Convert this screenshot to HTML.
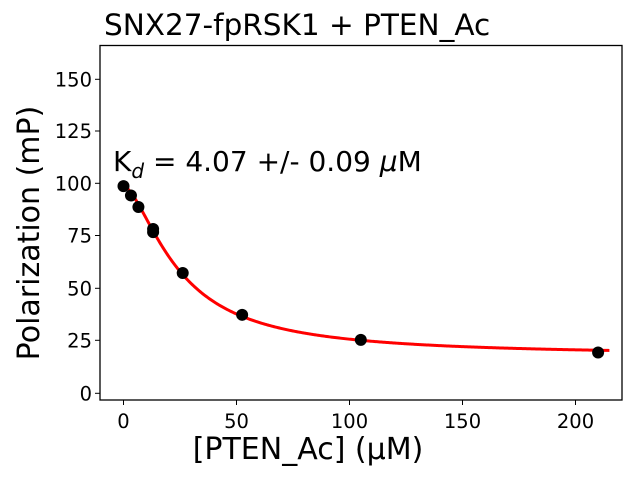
<!DOCTYPE html>
<html><head><meta charset="utf-8"><style>body{margin:0;background:#fff}svg{display:block;font-family:"DejaVu Sans","Liberation Sans",sans-serif}</style></head>
<body>
<svg id="s" width="640" height="480" xmlns="http://www.w3.org/2000/svg">
<rect width="640" height="480" fill="#fff"/>
<text x="104" y="35" font-size="29.5">SNX27-fpRSK1 + PTEN_Ac</text>
<g id="plot"></g>
<rect x="100" y="45.5" width="522" height="354.5" fill="none" stroke="#000" stroke-width="1.3"/>
<g font-size="19.5" text-anchor="middle">
<text x="123.5" y="428">0</text><text x="236.5" y="428">50</text><text x="349.5" y="428">100</text><text x="462.5" y="428">150</text><text x="575.5" y="428">200</text>
</g>
<g font-size="19.5" text-anchor="end">
<text x="92" y="400.3">0</text><text x="92" y="347.3">25</text><text x="92" y="295.3">50</text><text x="92" y="242.5">75</text><text x="92" y="190.3">100</text><text x="92" y="138">125</text><text x="92" y="86.3">150</text>
</g>
<g stroke="#000" stroke-width="1">
<line x1="123.5" y1="400" x2="123.5" y2="405"/><line x1="236.5" y1="400" x2="236.5" y2="405"/><line x1="349.5" y1="400" x2="349.5" y2="405"/><line x1="462.5" y1="400" x2="462.5" y2="405"/><line x1="575.5" y1="400" x2="575.5" y2="405"/>
<line x1="95" y1="393.3" x2="100" y2="393.3"/><line x1="95" y1="340.3" x2="100" y2="340.3"/><line x1="95" y1="288.3" x2="100" y2="288.3"/><line x1="95" y1="235.5" x2="100" y2="235.5"/><line x1="95" y1="183.3" x2="100" y2="183.3"/><line x1="95" y1="131" x2="100" y2="131"/><line x1="95" y1="79.3" x2="100" y2="79.3"/>
</g>
<text x="308" y="459" font-size="30" text-anchor="middle">[PTEN_Ac] (µM)</text>
<text transform="translate(39,233) rotate(-90)" font-size="30" text-anchor="middle">Polarization (mP)</text>
<text x="113" y="171" font-size="28">K<tspan font-size="20" dy="7" font-style="italic">d</tspan><tspan dy="-7"> = 4.07 +/- 0.09 </tspan><tspan font-style="italic">μ</tspan>M</text>
</svg>
<script>
var X=function(x){return 123.5+2.26*x},Y=function(y){return 393.3-2.093*y};
var f=function(x){return 18+81/(1+Math.pow(x/24.8,1.6))};
var d="";for(var i=0;i<=430;i++){var x=i*0.5;d+=(i?"L":"M")+X(x).toFixed(2)+","+Y(f(x)).toFixed(2);}
var g=document.getElementById("plot");
var h='<path d="'+d+'" fill="none" stroke="#ff0000" stroke-width="3"/>';
var pts=[[0,99],[3.3,94.5],[6.6,89],[13.1,77],[13.1,78.5],[26.2,57.5],[52.5,37.5],[105,25.5],[210,19.5]];
pts.forEach(function(p){h+='<circle cx="'+X(p[0])+'" cy="'+Y(p[1])+'" r="6" fill="#000"/>';});
g.innerHTML=h;
</script>
</body></html>
